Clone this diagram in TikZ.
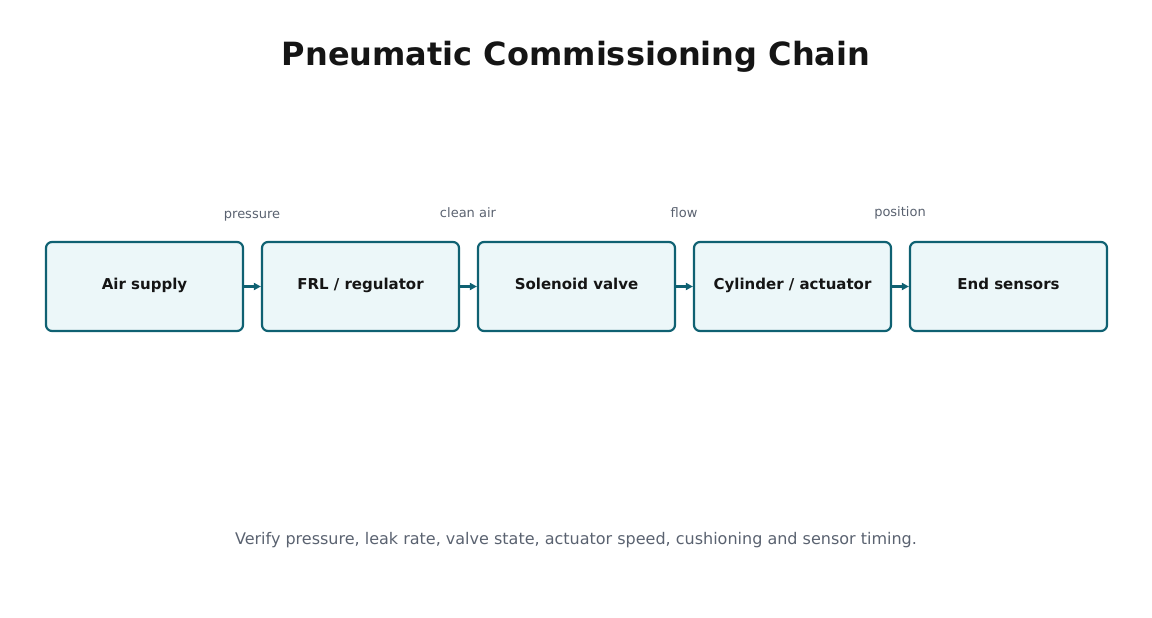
\documentclass[tikz,border=0pt]{standalone}
\usepackage{fontspec}
\setmainfont{DejaVu Sans}
\usetikzlibrary{arrows.meta}
\definecolor{edge}{HTML}{0F6172}
\definecolor{boxfill}{HTML}{ECF7F9}
\definecolor{lbl}{HTML}{5A6270}
\definecolor{ttl}{HTML}{151515}
\begin{document}
\begin{tikzpicture}[x=1pt,y=-1pt,
  box/.style={draw=edge,fill=boxfill,line width=2.2pt,rounded corners=6pt,minimum width=197pt,minimum height=89pt,inner sep=0pt,text height=10pt,text depth=3.5pt,font=\fontsize{15}{18}\selectfont\bfseries,text=ttl},
  lab/.style={font=\fontsize{13}{15}\selectfont,text=lbl,text height=9.5pt,text depth=3pt},
  conn/.style={draw=edge,line width=2.2pt,-{Triangle[length=7pt,width=7pt]}}]
\useasboundingbox (0,0) rectangle (1152,618);
\node[font=\fontsize{32}{38}\selectfont\bfseries,text=ttl] (title) at (576,57) {Pneumatic Commissioning Chain};
\node[box] (a) at (144.5,286.5) {Air supply};
\node[box] (b) at (360.5,286.5) {FRL / regulator};
\node[box] (c) at (576.5,286.5) {Solenoid valve};
\node[box] (d) at (792.5,286.5) {Cylinder / actuator};
\node[box] (e) at (1008.5,286.5) {End sensors};
\draw[conn] (a) -- (b);
\draw[conn] (b) -- (c);
\draw[conn] (c) -- (d);
\draw[conn] (d) -- (e);
\node[lab] (l1) at (252,215) {pressure};
\node[lab] (l2) at (468,214) {clean air};
\node[lab] (l3) at (684,214) {flow};
\node[lab] (l4) at (900,213) {position};
\node[font=\fontsize{16}{19}\selectfont,text=lbl] (foot) at (576,540) {Verify pressure, leak rate, valve state, actuator speed, cushioning and sensor timing.};
\end{tikzpicture}
\end{document}
